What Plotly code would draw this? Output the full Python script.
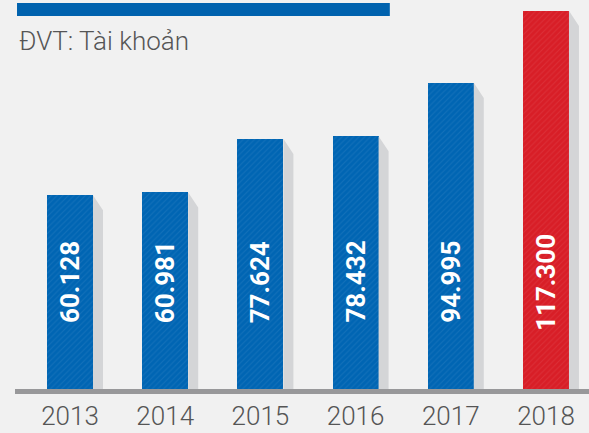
import plotly.graph_objects as go

years = ["2013", "2014", "2015", "2016", "2017", "2018"]
values = [60128, 60981, 77624, 78432, 94995, 117300]
labels = ["60.128", "60.981", "77.624", "78.432", "94.995", "117.300"]
unit_text = "ĐVT: Tài khoản"

BLUE = "#0065b3"
RED = "#d81e27"
SHADOW = "#d4d5d7"
BG = "#f1f1f1"

xs = list(range(len(years)))
colors = [BLUE] * (len(years) - 1) + [RED]

half_w = 0.2415
shadow_w = 0.105
drop = 4700

sx, sy = [], []
for i, v in zip(xs, values):
    x0 = i + half_w
    x1 = x0 + shadow_w
    sx += [x0, x1, x1, x0, x0, None]
    sy += [v, v - drop, 0, 0, v, None]

fig = go.Figure()
fig.add_trace(go.Scatter(x=sx, y=sy, mode="lines", fill="toself",
                         fillcolor=SHADOW, line=dict(width=0),
                         hoverinfo="skip", showlegend=False))
fig.add_trace(go.Bar(
    x=xs, y=values, width=0.483,
    marker=dict(color=colors, line=dict(width=0),
                pattern=dict(shape="/", fgcolor="#ffffff", fgopacity=0.08,
                             size=4, solidity=0.25)),
    showlegend=False, hoverinfo="skip"))

for i, lab in zip(xs, labels):
    fig.add_annotation(x=i, y=33200, text=f"<b>{lab}</b>", textangle=-90,
                       showarrow=False, xanchor="center", yanchor="middle",
                       font=dict(family="Roboto", weight=700,
                                 size=26, color="white"))

fig.add_annotation(x=0.0035, y=0.895, xref="paper", yref="paper",
                   text=unit_text, showarrow=False, xanchor="left", yanchor="middle",
                   font=dict(family="Roboto", weight=300, size=26, color="#555555"))

fig.add_shape(type="rect", xref="paper", yref="paper",
              x0=0.0035, x1=0.653, y0=0.959, y1=0.992,
              fillcolor="#0062ae", line=dict(width=0), layer="above")

fig.update_layout(
    width=589, height=433,
    margin=dict(l=15, r=0, t=0, b=44),
    paper_bgcolor=BG, plot_bgcolor=BG,
    bargap=0,
    xaxis=dict(range=[-0.578, 5.452], tickmode="array", tickvals=xs, ticktext=years,
               showgrid=False, zeroline=False, showline=True, linecolor="#98989a",
               linewidth=5, ticks="", ticklabelstandoff=0, automargin=False,
               tickfont=dict(family="Roboto", weight=300, size=26, color="#555555")),
    yaxis=dict(range=[0, 120660], visible=False, showgrid=False, zeroline=False,
               automargin=False),
)

fig.write_html("out.html", config={"displayModeBar": False},
               post_script="document.body.style.margin='0px';document.body.style.background='#f1f1f1';")
